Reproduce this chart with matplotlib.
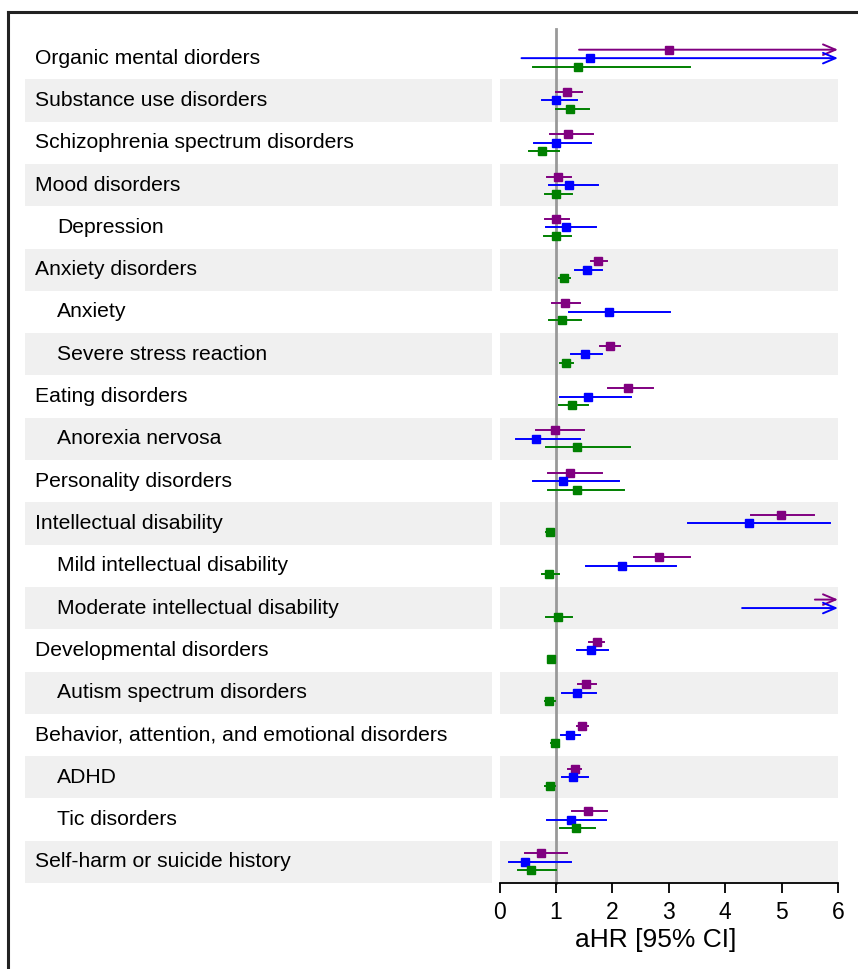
import numpy as np
import matplotlib.pyplot as plt
from matplotlib.lines import Line2D

plt.rcParams['font.family'] = ['Liberation Sans', 'DejaVu Sans']

labels = ['Organic mental diorders', 'Substance use disorders', 'Schizophrenia spectrum disorders',
          'Mood disorders', 'Depression', 'Anxiety disorders', 'Anxiety', 'Severe stress reaction',
          'Eating disorders', 'Anorexia nervosa', 'Personality disorders', 'Intellectual disability',
          'Mild intellectual disability', 'Moderate intellectual disability', 'Developmental disorders',
          'Autism spectrum disorders', 'Behavior, attention, and emotional disorders', 'ADHD',
          'Tic disorders', 'Self-harm or suicide history']
indent = [0, 0, 0, 0, 1, 0, 1, 1, 0, 1, 0, 0, 1, 1, 0, 1, 0, 1, 1, 0]

# purple series
p_est = [3.00, 1.20, 1.22, 1.04, 1.00, 1.75, 1.16, 1.95, 2.28, 0.98, 1.25, 4.99, 2.83, 9.0, 1.72, 1.54, 1.46, 1.33, 1.56, 0.73]
p_lo = [1.41, 1.01, 0.89, 0.85, 0.81, 1.62, 0.93, 1.79, 1.92, 0.65, 0.86, 4.45, 2.38, 5.59, 1.59, 1.39, 1.37, 1.21, 1.29, 0.45]
p_hi = [12.0, 1.47, 1.66, 1.27, 1.24, 1.90, 1.43, 2.14, 2.72, 1.49, 1.82, 5.58, 3.38, 14.0, 1.86, 1.71, 1.56, 1.45, 1.91, 1.20]
# blue series
b_est = [1.60, 1.01, 1.00, 1.23, 1.18, 1.55, 1.94, 1.51, 1.57, 0.64, 1.12, 4.43, 2.18, 8.5, 1.62, 1.37, 1.25, 1.30, 1.27, 0.46]
b_lo = [0.39, 0.75, 0.62, 0.88, 0.82, 1.33, 1.24, 1.26, 1.07, 0.29, 0.59, 3.35, 1.53, 4.30, 1.37, 1.11, 1.09, 1.10, 0.85, 0.17]
b_hi = [10.0, 1.38, 1.62, 1.75, 1.71, 1.82, 3.03, 1.82, 2.33, 1.42, 2.11, 5.86, 3.12, 15.0, 1.92, 1.71, 1.43, 1.56, 1.89, 1.27]
# green series
g_est = [1.40, 1.25, 0.75, 1.01, 1.00, 1.14, 1.11, 1.18, 1.28, 1.37, 1.38, 0.90, 0.88, 1.03, 0.92, 0.88, 0.98, 0.89, 1.35, 0.56]
g_lo = [0.59, 1.01, 0.53, 0.80, 0.78, 1.05, 0.87, 1.07, 1.06, 0.82, 0.86, 0.83, 0.75, 0.82, 0.87, 0.80, 0.92, 0.81, 1.07, 0.32]
g_hi = [3.38, 1.58, 1.05, 1.28, 1.27, 1.25, 1.44, 1.30, 1.56, 2.31, 2.21, 0.96, 1.05, 1.29, 0.97, 0.98, 1.05, 0.98, 1.70, 1.00]

series = [(p_est, p_lo, p_hi, '#800080', -0.2),
          (b_est, b_lo, b_hi, '#0000ff', 0.0),
          (g_est, g_lo, g_hi, '#008000', 0.2)]

fig = plt.figure(figsize=(8.58, 9.69), dpi=100)
W, H = 858, 969
bot = 1 - 883 / H
hgt = (883 - 37) / H
axl = fig.add_axes([25 / W, bot, (492 - 25) / W, hgt])
ax = fig.add_axes([499.5 / W, bot, (838 - 499.5) / W, hgt])

n = len(labels)
band = '#f0f0f0'
for a in (axl, ax):
    a.set_ylim(n - 0.5, -0.5)
    for i in range(1, n, 2):
        a.axhspan(i - 0.5, i + 0.5, color=band, lw=0, zorder=0)

axl.set_xlim(0, 1)
axl.axis('off')
for i, lab in enumerate(labels):
    axl.text(10 / 467 + indent[i] * 22 / 467, i, lab, va='center', ha='left', fontsize=15.2)

ax.set_xlim(0, 6)
ax.plot([1, 1], [n - 0.5, -0.68], color='#999999', lw=2, zorder=1, clip_on=False)
for est, lo, hi, c, off in series:
    for i in range(n):
        y = i + off
        if hi[i] > 6:
            ax.annotate('', xy=(6, y), xytext=(lo[i], y),
                        arrowprops=dict(arrowstyle='->,head_length=0.9,head_width=0.38',
                                        color=c, lw=1.4, shrinkA=0, shrinkB=0), zorder=2)
        else:
            ax.plot([lo[i], hi[i]], [y, y], color=c, lw=1.4, zorder=2)
        if est[i] <= 6:
            ax.plot(est[i], y, marker='s', ms=6.2, color=c, zorder=3)

for s in ['top', 'right', 'left']:
    ax.spines[s].set_visible(False)
ax.spines['bottom'].set_linewidth(1.3)
ax.set_yticks([])
ax.set_xticks(range(7))
ax.tick_params(axis='x', length=7, width=1.3, labelsize=16.5, pad=6)
ax.set_xlabel('aHR [95% CI]', fontsize=19)
ax.xaxis.set_label_coords((656 - 499.5) / 338.5, -0.053)

fig.add_artist(Line2D([8 / W, 1], [1 - 12 / H, 1 - 12 / H], color='#222222', lw=2.2))
fig.add_artist(Line2D([8 / W, 8 / W], [0, 1 - 12 / H], color='#222222', lw=2.2))

fig.savefig('out.png', dpi=100)
